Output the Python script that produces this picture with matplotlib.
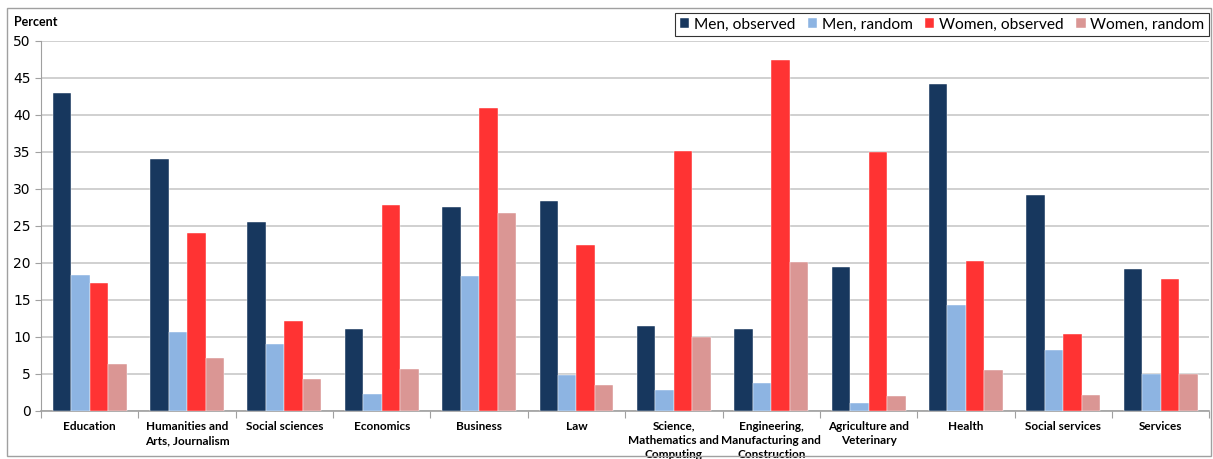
import matplotlib.pyplot as plt
import numpy as np
from matplotlib.patches import Rectangle

categories = ["Education", "Humanities and\nArts, Journalism", "Social sciences", "Economics",
              "Business", "Law", "Science,\nMathematics and\nComputing",
              "Engineering,\nManufacturing and\nConstruction", "Agriculture and\nVeterinary",
              "Health", "Social services", "Services"]
men_observed = [43.0, 34.0, 25.6, 11.1, 27.5, 28.4, 11.5, 11.1, 19.5, 44.2, 29.2, 19.2]
men_random = [18.4, 10.7, 9.0, 2.3, 18.3, 4.8, 2.9, 3.8, 1.1, 14.3, 8.3, 5.0]
women_observed = [17.3, 24.1, 12.2, 27.9, 41.0, 22.4, 35.2, 47.4, 35.0, 20.3, 10.4, 17.8]
women_random = [6.3, 7.2, 4.3, 5.7, 26.8, 3.5, 10.0, 20.2, 2.0, 5.5, 2.2, 5.0]

series = [("Men, observed", men_observed, "#17375E"),
          ("Men, random", men_random, "#8DB4E2"),
          ("Women, observed", women_observed, "#FF3333"),
          ("Women, random", women_random, "#DA9694")]

plt.rcParams['font.family'] = ['Lato', 'DejaVu Sans']

fig = plt.figure(figsize=(12.13, 4.59), dpi=100)
ax = fig.add_axes([0.0338, 0.1046, 0.9632, 0.8061])

x = np.arange(len(categories))
w = 0.19
for i, (name, vals, col) in enumerate(series):
    ax.bar(x + (i - 1.5) * w, vals, w, color=col, label=name,
           edgecolor="white", linewidth=0.3, zorder=3)

ax.set_xlim(-0.5, len(categories) - 0.5)
ax.set_ylim(0, 50)
ax.set_yticks(range(0, 51, 5))
ax.yaxis.grid(True, color="#c8c8c8", linewidth=1.2, zorder=0)
for s in ["top", "right"]:
    ax.spines[s].set_visible(False)
ax.spines["left"].set_color("#a0a0a0")
ax.spines["bottom"].set_color("#a0a0a0")
ax.spines["bottom"].set_linewidth(1.2)

# category boundaries as major ticks, labels on minor ticks at the centres
ax.set_xticks(np.arange(-0.5, len(categories)), minor=False)
ax.set_xticklabels([])
ax.set_xticks(x, minor=True)
ax.set_xticklabels(categories, minor=True, fontsize=8.5, fontweight="bold", linespacing=1.35)
ax.tick_params(axis="x", which="major", length=5, color="#a0a0a0")
ax.tick_params(axis="x", which="minor", length=0, pad=7)
ax.tick_params(axis="y", length=4, color="#a0a0a0", labelsize=10)
for lab in ax.get_yticklabels():
    lab.set_fontfamily("DejaVu Sans")

fig.text(14 / 1213, 1 - 22 / 459, "Percent", fontsize=9, fontweight="bold", va="center")

leg = fig.legend(loc="upper right", bbox_to_anchor=(1209 / 1213, 1 - 13 / 459), ncol=4,
                 fontsize=11.2, frameon=True, fancybox=False, handlelength=0.6,
                 handleheight=0.6, handletextpad=0.3, columnspacing=0.8,
                 borderpad=0.3, borderaxespad=0)
leg.get_frame().set_edgecolor("black")
leg.get_frame().set_linewidth(0.8)

fig.patches.append(Rectangle((7 / 1213, 3 / 459), 1204 / 1213, 448 / 459,
                             transform=fig.transFigure, fill=False,
                             edgecolor="#a0a0a0", linewidth=1))

fig.savefig("out.png", dpi=100)
